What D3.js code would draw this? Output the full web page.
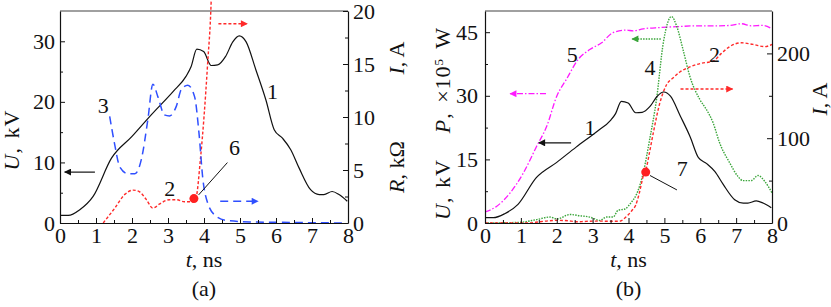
<!DOCTYPE html>
<html>
<head>
<meta charset="utf-8">
<script src="https://cdn.jsdelivr.net/npm/d3@7"></script>
<style>
  body { margin: 0; background: #fff; }
  svg text, svg tspan { font-family: "Liberation Serif", "Times New Roman", "DejaVu Serif", serif !important; fill: #111; }
</style>
</head>
<body>
<div id="chart"></div>
<script>
width = 831;
height = 307;

//////// Data ////////
// time axis, ns
const tTicks = [0, 1, 2, 3, 4, 5, 6, 7, 8];

// curve 1: voltage U, kV
const voltageT = [0, 0.23, 0.55, 0.92, 1.43, 2.0, 2.54, 3.14, 3.5, 3.64, 3.8, 3.99, 4.2, 4.38, 4.6, 4.8, 4.98, 5.17, 5.44, 5.72, 5.95, 6.18, 6.41, 6.64, 6.96, 7.2, 7.33, 7.56, 7.75, 7.98];
const voltageU = [1.26, 1.26, 2.2, 4.4, 10.7, 14.3, 17.9, 21.7, 24.2, 25.8, 28.7, 28.3, 26.0, 26.1, 27.5, 29.9, 30.9, 29.9, 25.3, 20.3, 15.4, 14.0, 12.1, 9.1, 5.5, 4.7, 4.7, 5.2, 4.7, 3.6];

// curve 2: current I, A
const currentT = [0, 1.2, 1.52, 1.8, 2.03, 2.2, 2.4, 2.58, 2.77, 3.04, 3.23, 3.46, 3.69, 3.78, 3.9, 4.0, 4.1, 4.2, 4.3, 4.41, 4.48, 4.58, 4.69, 4.87, 5.06, 5.24, 5.43, 5.71, 5.99, 6.36, 6.59, 6.82, 7.15, 7.47, 7.8, 8.0];
const currentI = [0, 0, 1.4, 2.7, 3.1, 2.96, 2.2, 1.4, 1.8, 2.2, 2.2, 2.0, 2.0, 2.4, 6, 10, 15, 21, 35, 55, 62, 82, 106, 141, 163, 171, 178, 184, 188, 191, 200, 208, 212.5, 210.6, 208, 210.6];

// curve 3: resistance R, kOhm
const resistT = [1.38, 1.52, 1.66, 1.89, 2.08, 2.26, 2.44, 2.58, 2.72, 2.9, 3.04, 3.23, 3.37, 3.55, 3.74, 3.86, 3.97, 4.1, 4.34, 4.6, 5.26, 6.18, 7.93];
const resistR = [10.06, 7.4, 5.3, 4.65, 4.65, 6.0, 9.75, 13.1, 11.9, 10.2, 10.1, 11.0, 12.6, 13.0, 11.9, 8.5, 4.1, 1.9, 0.63, 0.25, 0.1, 0.06, 0];

// curve 4: power P, x10^5 W
const powerT = [0, 0.97, 1.44, 1.81, 2.0, 2.37, 2.65, 2.92, 3.2, 3.39, 3.57, 3.71, 3.9, 4.08, 4.22, 4.41, 4.59, 4.78, 4.97, 5.2, 5.34, 5.52, 5.71, 5.99, 6.17, 6.36, 6.54, 6.82, 7.05, 7.19, 7.42, 7.61, 7.8, 8.0];
const powerP = [0, 0.16, 0.8, 1.4, 0.95, 2.0, 1.7, 1.4, 0.6, 1.4, 1.4, 3.0, 3.3, 4.9, 6.7, 11.8, 19.7, 29.1, 42.5, 48.7, 46.5, 40.9, 34.6, 29.1, 26.8, 23.6, 18.9, 14.2, 11.0, 10.0, 10.0, 11.2, 9.8, 7.1];

// curve 5
const curve5T = [0, 0.32, 0.7, 1.07, 1.44, 1.72, 2.0, 2.27, 2.6, 2.92, 3.25, 3.57, 3.94, 4.13, 4.41, 4.87, 5.34, 5.89, 6.45, 6.82, 7.15, 7.42, 7.75, 8.0];
const curve5V = [2.6, 3.9, 7.1, 11.8, 18.1, 22.8, 29.9, 33.9, 38.6, 40.9, 42.5, 44.9, 45.5, 45.3, 45.8, 46.1, 46.3, 46.5, 46.5, 46.6, 47.0, 46.5, 46.6, 45.8];

// tick values
const uTicksA = [0, 10, 20, 30];
const iTicksA = [0, 5, 10, 15, 20];
const upTicksB = [0, 15, 30, 45];
const iTicksB = [0, 100, 200];

const zip = (ts, vs) => ts.map((t, i) => ({t: t, v: vs[i]}));

//////// Styles ////////
const serif = '"Liberation Serif", "Times New Roman", "DejaVu Serif", serif';
const styles = {
    volt:  {color: '#111', dash: null, w: 1.2},
    cur:   {color: '#ff2a2a', dash: '3,2', w: 1.4},
    res:   {color: '#2f4fff', dash: '8,5', w: 1.5},
    pow:   {color: '#3aa53a', dash: '1.5,1.2', w: 1.4},
    c5:    {color: '#ff1aff', dash: '6,2,1.5,2', w: 1.3}
};

const svg = d3.select('#chart').append('svg')
    .attr('width', width)
    .attr('height', height)
    .attr('font-family', serif);

const defs = svg.append('defs');
Object.keys(styles).forEach(k => {
    defs.append('marker')
        .attr('id', 'arr-' + k)
        .attr('viewBox', '0 0 10 10')
        .attr('refX', 9).attr('refY', 5)
        .attr('markerWidth', 9).attr('markerHeight', 7)
        .attr('markerUnits', 'userSpaceOnUse')
        .attr('orient', 'auto')
        .append('path')
        .attr('d', 'M0,0 L10,5 L0,10 Z')
        .attr('fill', styles[k].color);
});

const fontSize = 22;

function makePanel(opt) {
    const w = opt.w, h = opt.h;
    const g = svg.append('g').attr('transform', `translate(${opt.left},${opt.top})`);

    const x = d3.scaleLinear().domain([0, 8]).range([0, w]);
    const yL = d3.scaleLinear().domain(opt.leftDomain).range([h, 0]);
    const yR = d3.scaleLinear().domain(opt.rightDomain).range([h, 0]);

    defs.append('clipPath').attr('id', 'clip-' + opt.id)
        .append('rect').attr('x', 0).attr('y', -opt.top).attr('width', w).attr('height', h + opt.top);

    // top border
    g.append('line')
        .attr('x1', 0).attr('x2', w).attr('y1', 0).attr('y2', 0)
        .attr('stroke', '#808080').attr('stroke-width', 1.6);

    const plot = g.append('g').attr('clip-path', `url(#clip-${opt.id})`);

    opt.series.forEach(s => {
        const sc = s.axis === 'left' ? yL : yR;
        const st = styles[s.style];
        const line = d3.line()
            .x(d => x(d.t))
            .y(d => sc(d.v))
            .curve(d3.curveMonotoneX);
        plot.append('path')
            .datum(s.data)
            .attr('d', line)
            .attr('fill', 'none')
            .attr('stroke', st.color)
            .attr('stroke-width', st.w)
            .attr('stroke-dasharray', st.dash)
            .attr('stroke-linejoin', 'round');
    });

    // axes
    const axisStyle = a => a.call(s => {
        s.attr('font-family', serif);
        s.selectAll('path.domain').attr('stroke', '#111').attr('stroke-width', 1.2);
        s.selectAll('.tick line').attr('stroke', '#111').attr('stroke-width', 1);
        s.selectAll('text').style('font-size', fontSize + 'px').style('font-family', serif).attr('fill', '#111');
    });

    const xMinor = d3.range(0.5, 8, 1);
    g.append('g').attr('transform', `translate(0,${h})`)
        .call(d3.axisBottom(x).tickValues(tTicks).tickSize(-5).tickSizeOuter(0).tickPadding(4).tickFormat(d3.format('d')))
        .call(axisStyle);
    g.append('g').attr('transform', `translate(0,${h})`)
        .call(d3.axisBottom(x).tickValues(xMinor).tickSize(-3).tickFormat(''))
        .call(axisStyle).select('.domain').remove();

    g.append('g')
        .call(d3.axisLeft(yL).tickValues(opt.leftTicks).tickSize(-5).tickSizeOuter(0).tickPadding(opt.leftPad))
        .call(axisStyle);
    g.append('g')
        .call(d3.axisLeft(yL).tickValues(opt.leftMinor).tickSize(-3).tickFormat(''))
        .call(axisStyle).select('.domain').remove();

    g.append('g').attr('transform', `translate(${w},0)`)
        .call(d3.axisRight(yR).tickValues(opt.rightTicks).tickSize(-5).tickSizeOuter(0).tickPadding(5))
        .call(axisStyle);
    g.append('g').attr('transform', `translate(${w},0)`)
        .call(d3.axisRight(yR).tickValues(opt.rightMinor).tickSize(-3).tickFormat(''))
        .call(axisStyle).select('.domain').remove();

    // arrows
    opt.arrows.forEach(a => {
        const sc = a.axis === 'left' ? yL : yR;
        const st = styles[a.style];
        g.append('line')
            .attr('x1', x(a.t0)).attr('x2', x(a.t1))
            .attr('y1', sc(a.v)).attr('y2', sc(a.v))
            .attr('stroke', st.color)
            .attr('stroke-width', st.w)
            .attr('stroke-dasharray', st.dash)
            .attr('marker-end', `url(#arr-${a.style})`);
    });

    // dots with leader lines
    opt.dots.forEach(d => {
        const sc = d.axis === 'left' ? yL : yR;
        g.append('line')
            .attr('x1', x(d.lt0)).attr('y1', sc(d.lv0))
            .attr('x2', x(d.lt1)).attr('y2', sc(d.lv1))
            .attr('stroke', '#111').attr('stroke-width', 1);
        g.append('circle')
            .attr('cx', x(d.t)).attr('cy', sc(d.v)).attr('r', 4.5)
            .attr('fill', '#ff2020');
    });

    // curve number labels
    opt.labels.forEach(l => {
        const sc = l.axis === 'left' ? yL : yR;
        g.append('text')
            .attr('x', x(l.t)).attr('y', sc(l.v))
            .attr('text-anchor', 'middle')
            .style('font-family', serif)
            .style('font-size', fontSize + 'px')
            .text(l.text);
    });

    // x title
    const xt = g.append('text')
        .attr('x', w / 2).attr('y', h + 44)
        .attr('text-anchor', 'middle')
        .style('font-family', serif)
        .style('font-size', fontSize + 'px');
    xt.append('tspan').style('font-style', 'italic').text('t');
    xt.append('tspan').text(', ns');

    g.append('text')
        .attr('x', w / 2).attr('y', h + 73)
        .attr('text-anchor', 'middle')
        .style('font-family', serif)
        .style('font-size', fontSize + 'px')
        .text(opt.caption);

    return {g, x, yL, yR};
}

function rotText(parent, cx, cy, parts, anchor, spacing) {
    const t = parent.append('text')
        .attr('transform', `translate(${cx},${cy}) rotate(-90)`)
        .attr('text-anchor', anchor || 'middle')
        .style('font-family', serif)
        .style('font-size', fontSize + 'px');
    if (spacing) t.style('letter-spacing', spacing[0] + 'px').style('word-spacing', spacing[1] + 'px');
    parts.forEach(p => {
        const s = t.append('tspan').text(p.text);
        if (p.italic) s.style('font-style', 'italic');
        if (p.sup) s.attr('baseline-shift', 'super').style('font-size', '13px');
    });
    return t;
}

//////// Panel (a) ////////
makePanel({
    id: 'a', left: 60, top: 11, w: 288, h: 212,
    leftDomain: [0, 35], rightDomain: [0, 20],
    leftTicks: uTicksA, leftMinor: [5, 15, 25], leftPad: 5,
    rightTicks: iTicksA, rightMinor: [2.5, 7.5, 12.5, 17.5],
    caption: '(a)',
    series: [
        {data: zip(voltageT, voltageU), axis: 'left', style: 'volt'},
        {data: zip(currentT, currentI).filter(d => d.t >= 1.2), axis: 'right', style: 'cur'},
        {data: zip(resistT, resistR), axis: 'right', style: 'res'}
    ],
    arrows: [
        {t0: 0.97, t1: 0.13, v: 8.4, axis: 'left', style: 'volt'},
        {t0: 4.4, t1: 5.2, v: 18.8, axis: 'right', style: 'cur'},
        {t0: 4.45, t1: 5.5, v: 2.05, axis: 'right', style: 'res'}
    ],
    dots: [
        {t: 3.72, v: 2.3, lt0: 3.85, lv0: 2.65, lt1: 4.65, lv1: 5.7, axis: 'right'}
    ],
    labels: [
        {t: 5.9, v: 20.5, text: '1', axis: 'left'},
        {t: 1.2, v: 18.2, text: '3', axis: 'left'},
        {t: 3.05, v: 4.5, text: '2', axis: 'left'},
        {t: 4.85, v: 11.3, text: '6', axis: 'left'}
    ]
});

rotText(svg, 19, 140, [{text: 'U', italic: true}, {text: ', kV'}], 'middle', [1, 2]);
rotText(svg, 404, 58, [{text: 'I', italic: true}, {text: ', A'}]);
rotText(svg, 404, 167, [{text: 'R', italic: true}, {text: ', k\u03A9'}]);

//////// Panel (b) ////////
makePanel({
    id: 'b', left: 485, top: 11, w: 287, h: 212,
    leftDomain: [0, 50], rightDomain: [0, 250],
    leftTicks: upTicksB, leftMinor: [7.5, 22.5, 37.5], leftPad: 7,
    rightTicks: iTicksB, rightMinor: [50, 150],
    caption: '(b)',
    series: [
        {data: zip(curve5T, curve5V), axis: 'left', style: 'c5'},
        {data: zip(powerT, powerP), axis: 'left', style: 'pow'},
        {data: zip(currentT, currentI), axis: 'right', style: 'cur'},
        {data: zip(voltageT, voltageU), axis: 'left', style: 'volt'}
    ],
    arrows: [
        {t0: 4.9, t1: 4.1, v: 43.4, axis: 'left', style: 'pow'},
        {t0: 1.7, t1: 0.7, v: 30.5, axis: 'left', style: 'c5'},
        {t0: 2.4, t1: 1.5, v: 18.9, axis: 'left', style: 'volt'},
        {t0: 5.45, t1: 6.9, v: 158, axis: 'right', style: 'cur'}
    ],
    dots: [
        {t: 4.48, v: 60, lt0: 4.6, lv0: 56, lt1: 5.35, lv1: 39, axis: 'right'}
    ],
    labels: [
        {t: 2.43, v: 38, text: '5', axis: 'left'},
        {t: 4.6, v: 34.8, text: '4', axis: 'left'},
        {t: 6.4, v: 38, text: '2', axis: 'left'},
        {t: 2.93, v: 20.8, text: '1', axis: 'left'},
        {t: 5.5, v: 11, text: '7', axis: 'left'}
    ]
});

rotText(svg, 450, 220, [{text: 'U', italic: true}, {text: ', kV'}], 'start', [1, 2]);
rotText(svg, 450, 27, [
    {text: 'P', italic: true}, {text: ', \u00D710'}, {text: '5', sup: true}, {text: ' W'}
], 'end', [1, 3]);
rotText(svg, 827, 99, [{text: 'I', italic: true}, {text: ', A'}]);
</script>
</body>
</html>
